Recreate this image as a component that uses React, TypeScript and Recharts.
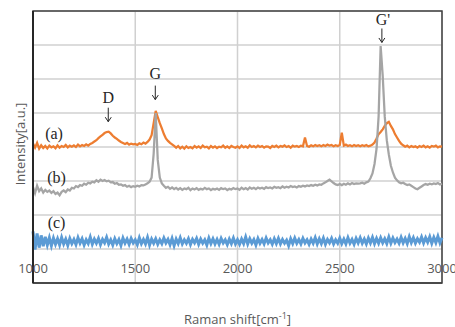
import {
  LineChart,
  Line,
  XAxis,
  YAxis,
  CartesianGrid,
  ReferenceArea,
  ReferenceDot,
  Label,
} from 'recharts';

// Raman spectra, sampled every 10 cm-1 from 1000 to 3000
const shiftStart = 1000;
const shiftStep = 10;

// (a) orange spectrum
const spectrumA = [
  4.10, 3.98, 4.12, 3.95, 4.05, 3.97, 4.03, 3.96, 4.04, 3.99,
  4.02, 3.96, 4.05, 3.98, 4.03, 4.00, 4.06, 3.99, 4.04, 4.01,
  4.05, 4.00, 4.07, 4.02, 4.06, 4.03, 4.08, 4.04, 4.09, 4.12,
  4.16, 4.20, 4.26, 4.31, 4.36, 4.41, 4.44, 4.45, 4.40, 4.33,
  4.28, 4.24, 4.19, 4.15, 4.12, 4.09, 4.12, 4.07, 4.10, 4.08,
  4.09, 4.06, 4.11, 4.08, 4.13, 4.10, 4.15, 4.22, 4.35, 4.70,
  5.06, 4.88, 4.70, 4.55, 4.38, 4.25, 4.18, 4.12, 4.08, 4.03,
  3.98, 4.03, 3.96, 4.01, 3.95, 4.02, 3.97, 4.00, 3.96, 4.03,
  3.98, 4.02, 3.97, 4.04, 3.99, 4.01, 3.96, 4.03, 3.98, 4.02,
  3.97, 4.01, 3.99, 4.04, 3.98, 4.02, 3.97, 4.03, 4.00, 3.98,
  4.02, 3.97, 4.04, 3.99, 4.02, 3.98, 4.05, 4.00, 4.03, 3.99,
  4.04, 4.00, 4.03, 3.98, 4.02, 4.01, 3.97, 4.03, 4.00, 4.04,
  3.99, 4.03, 4.01, 4.05, 4.00, 4.03, 3.98, 4.04, 4.01, 4.03,
  4.00, 4.04, 4.02, 4.28, 4.03, 4.01, 4.05, 4.02, 4.06, 4.03,
  4.05, 4.02, 4.06, 4.03, 4.07, 4.04, 4.06, 4.02, 4.05, 4.03,
  4.06, 4.42, 4.04, 4.07, 4.03, 4.05, 4.02, 4.06, 4.03, 4.05,
  4.02, 4.05, 4.03, 4.06, 4.02, 4.04, 4.07, 4.13, 4.25, 4.38,
  4.44, 4.52, 4.62, 4.70, 4.74, 4.62, 4.52, 4.38, 4.28, 4.18,
  4.10, 4.05, 4.01, 4.04, 3.99, 4.03, 4.00, 4.02, 3.98, 4.03,
  4.00, 4.04, 3.99, 4.02, 3.98, 4.03, 4.01, 4.04, 3.99, 4.02,
  4.01,
];

// (b) gray spectrum
const spectrumB = [
  2.82, 2.64, 2.86, 2.70, 2.78, 2.66, 2.74, 2.68, 2.72, 2.65,
  2.70, 2.62, 2.66, 2.58, 2.68, 2.72, 2.67, 2.75, 2.72, 2.80,
  2.78, 2.85, 2.82, 2.88, 2.86, 2.92, 2.89, 2.95, 2.93, 2.98,
  2.96, 3.02, 2.98, 3.04, 3.00, 3.03, 2.99, 3.01, 2.96, 2.97,
  2.92, 2.94, 2.89, 2.90, 2.86, 2.88, 2.83, 2.86, 2.82, 2.85,
  2.83, 2.86, 2.84, 2.88, 2.87, 2.90, 2.93, 2.98, 3.10, 3.80,
  5.00, 3.62, 3.10, 2.93, 2.86, 2.80, 2.83, 2.77, 2.81, 2.76,
  2.80, 2.75, 2.79, 2.74, 2.78, 2.76, 2.80, 2.73, 2.78, 2.75,
  2.79, 2.74, 2.77, 2.75, 2.80, 2.76, 2.78, 2.73, 2.77, 2.75,
  2.78, 2.74, 2.79, 2.76, 2.78, 2.73, 2.77, 2.75, 2.79, 2.76,
  2.78, 2.74, 2.80, 2.76, 2.79, 2.75, 2.81, 2.77, 2.80, 2.76,
  2.81, 2.78, 2.80, 2.77, 2.82, 2.79, 2.81, 2.78, 2.83, 2.80,
  2.82, 2.79, 2.84, 2.80, 2.83, 2.81, 2.85, 2.82, 2.84, 2.81,
  2.85, 2.83, 2.86, 2.84, 2.87, 2.85, 2.88, 2.86, 2.89, 2.87,
  2.90, 2.89, 2.93, 2.96, 3.00, 3.04, 2.99, 2.94, 2.90, 2.88,
  2.91, 2.88, 2.92, 2.89, 2.93, 2.90, 2.94, 2.91, 2.93, 2.92,
  2.93, 2.95, 2.92, 2.96, 2.98, 3.08, 3.22, 3.50, 3.95, 4.90,
  6.97, 6.10, 4.90, 4.20, 3.78, 3.45, 3.25, 3.10, 3.02, 2.96,
  2.93, 2.95, 2.91, 2.88, 2.90, 2.86, 2.82, 2.78, 2.76, 2.80,
  2.84, 2.88, 2.91, 2.89, 2.92, 2.90, 2.93, 2.91, 2.94, 2.90,
  2.92,
];

// (c) blue spectrum
const spectrumC = [
  1.52, 0.98, 1.46, 1.04, 1.40, 1.08, 1.36, 1.12, 1.33, 1.10,
  1.32, 1.14, 1.30, 1.12, 1.34, 1.15, 1.29, 1.11, 1.31, 1.16,
  1.28, 1.13, 1.33, 1.17, 1.30, 1.12, 1.27, 1.16, 1.35, 1.14,
  1.29, 1.17, 1.31, 1.13, 1.28, 1.18, 1.34, 1.15, 1.27, 1.12,
  1.30, 1.16, 1.28, 1.11, 1.32, 1.17, 1.29, 1.14, 1.31, 1.18,
  1.27, 1.13, 1.33, 1.16, 1.28, 1.15, 1.34, 1.12, 1.29, 1.17,
  1.30, 1.14, 1.27, 1.16, 1.32, 1.18, 1.28, 1.13, 1.31, 1.10,
  1.29, 1.16, 1.33, 1.15, 1.27, 1.17, 1.30, 1.13, 1.28, 1.18,
  1.31, 1.14, 1.29, 1.17, 1.27, 1.12, 1.32, 1.16, 1.30, 1.15,
  1.28, 1.14, 1.31, 1.18, 1.27, 1.13, 1.29, 1.16, 1.32, 1.15,
  1.27, 1.14, 1.29, 1.16, 1.35, 1.15, 1.30, 1.17, 1.28, 1.12,
  1.31, 1.17, 1.28, 1.15, 1.32, 1.18, 1.27, 1.14, 1.30, 1.16,
  1.31, 1.15, 1.28, 1.17, 1.26, 1.10, 1.30, 1.16, 1.32, 1.17,
  1.28, 1.15, 1.31, 1.18, 1.27, 1.14, 1.29, 1.17, 1.33, 1.15,
  1.30, 1.16, 1.32, 1.14, 1.28, 1.18, 1.31, 1.15, 1.27, 1.17,
  1.32, 1.16, 1.29, 1.15, 1.33, 1.17, 1.28, 1.14, 1.31, 1.18,
  1.33, 1.17, 1.29, 1.15, 1.32, 1.18, 1.34, 1.16, 1.31, 1.17,
  1.33, 1.18, 1.30, 1.16, 1.35, 1.17, 1.32, 1.19, 1.29, 1.17,
  1.34, 1.18, 1.31, 1.16, 1.36, 1.19, 1.33, 1.17, 1.30, 1.20,
  1.35, 1.18, 1.33, 1.20, 1.36, 1.17, 1.34, 1.19, 1.37, 1.18,
  1.33,
];

const xTicks = [1000, 1500, 2000, 2500, 3000];
const yTicks = [0, 1, 2, 3, 4, 5, 6, 7, 8];

// text annotations: [label, wavenumber, intensity]
const curveLabels: [string, number, number][] = [
  ['(a)', 1103, 4.38],
  ['(b)', 1115, 3.09],
  ['(c)', 1115, 1.76],
];
const peakLabels: [string, number, number][] = [
  ['D', 1368, 5.44],
  ['G', 1598, 6.15],
  ["G'", 2711, 7.74],
];
// downward arrows: [wavenumber, intensity at arrow centre]
const arrowMarks: [number, number][] = [
  [1368, 4.95],
  [1598, 5.60],
  [2706, 7.28],
];

const data = spectrumA.map((a, i) => ({
  shift: shiftStart + i * shiftStep,
  a,
  b: spectrumB[i],
  c: spectrumC[i],
}));

const SANS = '"Open Sans", sans-serif';
const SERIF = '"Liberation Serif", "Times New Roman", serif';

const XTick = ({ x, y, payload }: any) => (
  <text x={x} y={y - 10} textAnchor="middle" fill="#595959" fontSize={13} fontFamily={SANS}>
    {payload.value}
  </text>
);

const NoTick = () => <g />;

const XTitle = ({ viewBox }: any) => {
  const cx = viewBox.x + viewBox.width / 2;
  return (
    <text x={cx} y={323.5} textAnchor="middle" fill="#595959" fontSize={13} fontFamily={SANS}>
      Raman shift[cm
      <tspan fontSize={9} dy={-5}>-1</tspan>
      <tspan dy={5}>]</tspan>
    </text>
  );
};

const YTitle = () => (
  <text
    x={24.5}
    y={144}
    transform="rotate(-90, 24.5, 144)"
    textAnchor="middle"
    fill="#595959"
    fontSize={13}
    fontFamily={SANS}
  >
    Intensity[a.u.]
  </text>
);

const serifLabel = (text: string, size: number) => ({ viewBox }: any) => (
  <text
    x={viewBox.x}
    y={viewBox.y + size * 0.33}
    textAnchor="middle"
    fill="#262626"
    fontSize={size}
    fontFamily={SERIF}
  >
    {text}
  </text>
);

const DownArrow = ({ viewBox }: any) => {
  const { x, y } = viewBox;
  return (
    <g stroke="#262626" strokeWidth={1} fill="none">
      <line x1={x} y1={y - 7} x2={x} y2={y + 7} />
      <path d={`M${x - 3},${y + 2.5} L${x},${y + 7} L${x + 3},${y + 2.5}`} />
    </g>
  );
};

export default function App() {
  return (
    <div style={{ position: 'absolute', left: 0, top: 0 }}>
      <LineChart width={455} height={327} data={data} margin={{ top: 11, right: 13, left: 0, bottom: 0 }}>
        <CartesianGrid stroke="#D0D0D0" strokeWidth={1.5} />
        <XAxis
          dataKey="shift"
          type="number"
          domain={[1000, 3000]}
          ticks={xTicks}
          tick={<XTick />}
          tickLine={false}
          tickSize={0}
          tickMargin={0}
          axisLine={{ stroke: '#404040', strokeWidth: 1.5 }}
          height={44}
          interval={0}
        >
          <Label content={<XTitle />} />
        </XAxis>
        <YAxis
          type="number"
          domain={[0, 8]}
          ticks={yTicks}
          tick={<NoTick />}
          tickLine={false}
          axisLine={{ stroke: '#262626', strokeWidth: 2 }}
          width={33}
          interval={0}
        >
          <Label content={<YTitle />} />
        </YAxis>
        <Line dataKey="a" stroke="#ED7D31" strokeWidth={2.25} dot={false} isAnimationActive={false} />
        <Line dataKey="b" stroke="#A5A5A5" strokeWidth={2.25} dot={false} isAnimationActive={false} />
        <Line dataKey="c" stroke="#5B9BD5" strokeWidth={3} dot={false} isAnimationActive={false} />
        <ReferenceArea
          x1={1000}
          x2={3000}
          y1={0}
          y2={8}
          fill="none"
          stroke="#404040"
          strokeWidth={1.5}
        />
        {curveLabels.map(([t, x, y]) => (
          <ReferenceDot key={t} x={x} y={y} r={0} label={serifLabel(t, 16)} />
        ))}
        {peakLabels.map(([t, x, y]) => (
          <ReferenceDot key={t} x={x} y={y} r={0} label={serifLabel(t, 16)} />
        ))}
        {arrowMarks.map(([x, y]) => (
          <ReferenceDot key={x} x={x} y={y} r={0} label={<DownArrow />} />
        ))}
      </LineChart>
    </div>
  );
}
